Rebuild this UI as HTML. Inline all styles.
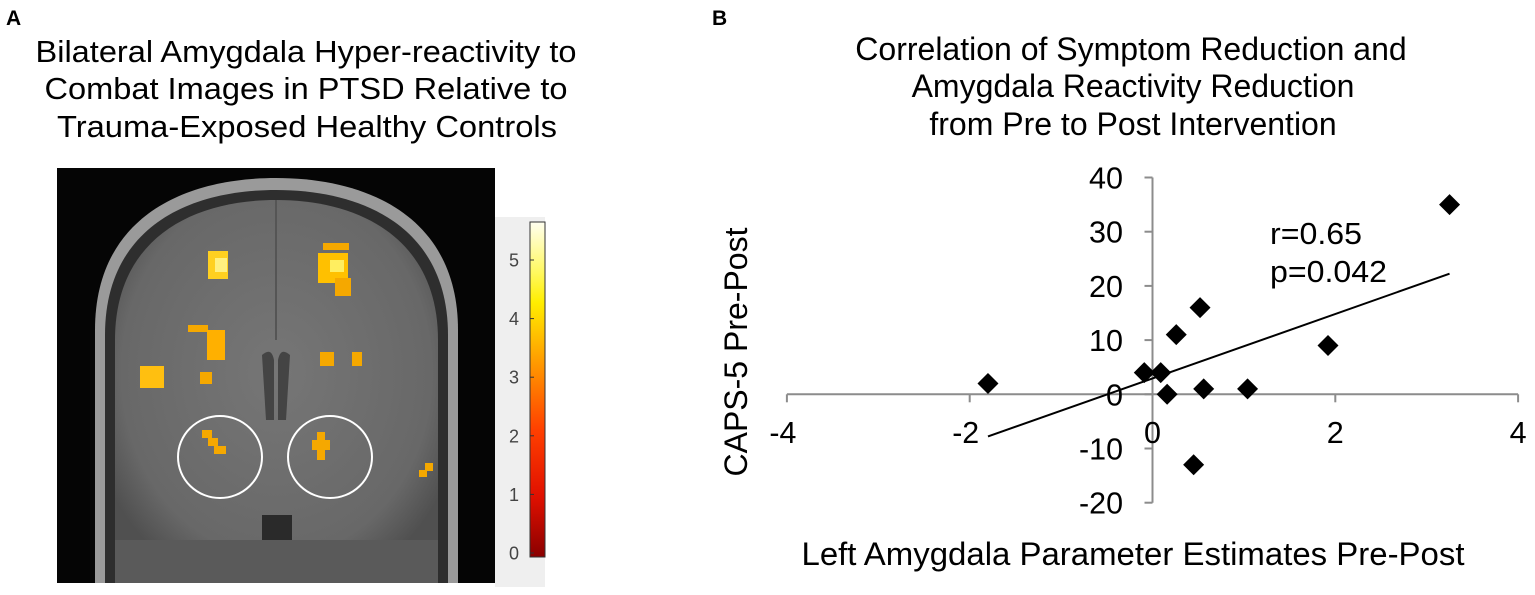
<!DOCTYPE html>
<html><head><meta charset="utf-8"><style>
html,body{margin:0;padding:0;background:#fff;}
svg{display:block;font-family:"Liberation Sans",Arial,sans-serif;}
</style></head><body>
<svg id="fig" width="1535" height="595" viewBox="0 0 1535 595" xmlns="http://www.w3.org/2000/svg">
<defs>
<linearGradient id="cbar" x1="0" y1="1" x2="0" y2="0">
<stop offset="0" stop-color="#8a0000"/><stop offset="0.18" stop-color="#e01000"/><stop offset="0.38" stop-color="#ff4000"/>
<stop offset="0.58" stop-color="#ff9a00"/><stop offset="0.76" stop-color="#ffee00"/><stop offset="0.85" stop-color="#fff860"/><stop offset="1" stop-color="#fffff0"/>
</linearGradient>
<radialGradient id="brainG" cx="0.5" cy="0.45" r="0.6"><stop offset="0" stop-color="#767676"/><stop offset="0.8" stop-color="#686868"/><stop offset="1" stop-color="#505050"/></radialGradient>
</defs>
<text x="6" y="25" font-size="21" font-weight="bold">A</text>
<text x="712" y="25" font-size="21" font-weight="bold">B</text>
<g font-size="31" text-anchor="middle">
<text x="306" y="62" textLength="541" lengthAdjust="spacingAndGlyphs">Bilateral Amygdala Hyper-reactivity to</text>
<text x="306" y="99" textLength="523" lengthAdjust="spacingAndGlyphs">Combat Images in PTSD Relative to</text>
<text x="307" y="137" textLength="500" lengthAdjust="spacingAndGlyphs">Trauma-Exposed Healthy Controls</text>
</g>
<g>
<rect x="57" y="168" width="438" height="415" fill="#050505"/>
<path d="M95 583 L95 330 C95 220 180 178 276 178 C372 178 458 220 458 330 L458 583 Z" fill="#9a9a9a"/>
<path d="M105 583 L105 335 C105 230 185 190 276 190 C367 190 448 230 448 335 L448 583 Z" fill="#2e2e2e"/>
<path d="M115 583 L115 340 C115 240 190 200 276 200 C362 200 438 240 438 340 L438 583 Z" fill="url(#brainG)"/>
<path d="M262 355 C268 350 272 350 274 360 L274 420 L266 420 Z" fill="#444"/>
<path d="M290 355 C284 350 280 350 278 360 L278 420 L286 420 Z" fill="#444"/>
<rect x="262" y="515" width="30" height="45" fill="#2a2a2a"/>
<rect x="115" y="540" width="323" height="43" fill="#5a5a5a"/>
<line x1="276" y1="200" x2="276" y2="340" stroke="#555" stroke-width="2"/>
</g>
<g fill="#f5a800">
<rect x="208" y="251" width="20" height="28" fill="#ffd020"/><rect x="215" y="258" width="12" height="14" fill="#fff080"/>
<rect x="323" y="243" width="26" height="7"/><rect x="318" y="253" width="30" height="30" fill="#ffc000"/><rect x="330" y="260" width="14" height="12" fill="#ffee60"/><rect x="335" y="278" width="16" height="18"/>
<rect x="188" y="325" width="20" height="7"/><rect x="207" y="330" width="18" height="30" fill="#ffb000"/>
<rect x="200" y="372" width="12" height="12"/>
<rect x="140" y="366" width="24" height="22" fill="#ffbf10"/>
<rect x="320" y="352" width="14" height="14"/><rect x="352" y="352" width="10" height="14"/>
<rect x="202" y="430" width="10" height="8"/><rect x="208" y="438" width="10" height="8"/><rect x="214" y="446" width="12" height="8"/>
<rect x="317" y="432" width="8" height="28"/><rect x="312" y="440" width="18" height="10"/>
<rect x="425" y="463" width="8" height="8"/><rect x="419" y="470" width="8" height="7"/>
</g>
<ellipse cx="220" cy="457" rx="42" ry="41" fill="none" stroke="#fff" stroke-width="2"/>
<ellipse cx="330" cy="457" rx="42" ry="41" fill="none" stroke="#fff" stroke-width="2"/>
<rect x="495" y="217" width="50" height="370" fill="#efefef"/>
<rect x="530" y="222" width="15" height="335" fill="url(#cbar)" stroke="#333" stroke-width="1"/>
<g id="cbticks" font-size="18" fill="#444" text-anchor="middle"></g>

<g font-size="32" text-anchor="middle">
<text x="1131" y="60">Correlation of Symptom Reduction and</text>
<text x="1133" y="97">Amygdala Reactivity Reduction</text>
<text x="1133" y="135">from Pre to Post Intervention</text>
</g>
<g id="chart"></g>
<text x="1133" y="565" font-size="32" text-anchor="middle" textLength="663" lengthAdjust="spacingAndGlyphs">Left Amygdala Parameter Estimates Pre-Post</text>
<text transform="translate(747,352) rotate(-90)" font-size="32" text-anchor="middle">CAPS-5 Pre-Post</text>
<text x="1270" y="244" font-size="31" textLength="92" lengthAdjust="spacingAndGlyphs">r=0.65</text>
<text x="1270" y="282" font-size="31" textLength="117" lengthAdjust="spacingAndGlyphs">p=0.042</text>
</svg>
<script>
const xValues = [-1.8, -0.09, 0.09, 0.16, 0.26, 0.52, 0.56, 1.04, 1.92, 3.25, 0.45];
const yValues = [2, 4, 4, 0, 11, 16, 1, 1, 9, 35, -13];
const xTicks = [-4, -2, 0, 2, 4];
const yTicks = [-20, -10, 0, 10, 20, 30, 40];
const cbTicks = [0, 1, 2, 3, 4, 5];

const NS = 'http://www.w3.org/2000/svg';
function sx(v){ return 1152.5 + v * 91.4; }
function sy(v){ return 394.3 - v * 5.42; }
function cby(v){ return 553 - v * 58.6; }
function mk(tag, attrs, parent){ const e = document.createElementNS(NS, tag); for (const k in attrs) e.setAttribute(k, attrs[k]); parent.appendChild(e); return e; }
function labW(t){ const s = String(t); return s.replace('-', '').length * 17 + (s.indexOf('-') >= 0 ? 10 : 0); }

const chart = document.getElementById('chart');
const axisCol = '#8c8c8c';
const xAxis = mk('line', {x1: sx(-4), x2: sx(4), y1: sy(0), y2: sy(0), stroke: axisCol, 'stroke-width': 2}, chart);


const yAxis = mk('line', {x1: sx(0), x2: sx(0), y1: sy(40), y2: sy(-20), stroke: axisCol, 'stroke-width': 2}, chart);



xTicks.forEach(t => {
  const tk = mk('line', {x1: sx(t), x2: sx(t), y1: sy(0), y2: sy(0) + 8, stroke: axisCol, 'stroke-width': 2}, chart);
  
  
  const lb = mk('text', {x: sx(t) - (t < 0 ? 4 : 0), y: 443, 'font-size': 31, 'text-anchor': 'middle', textLength: labW(t), lengthAdjust: 'spacingAndGlyphs'}, chart);
  lb.textContent = t;
  
  
});
yTicks.forEach(t => {
  const tk = mk('line', {x1: sx(0) - 8, x2: sx(0), y1: sy(t), y2: sy(t), stroke: axisCol, 'stroke-width': 2}, chart);
  
  
  const lb = mk('text', {x: 1123, y: sy(t) + 11, 'font-size': 31, 'text-anchor': 'end', textLength: labW(t), lengthAdjust: 'spacingAndGlyphs'}, chart);
  lb.textContent = t;
  
  
});

const n = xValues.length;
const mx = xValues.reduce((a,b)=>a+b,0)/n, my = yValues.reduce((a,b)=>a+b,0)/n;
let sxy = 0, sxx = 0;
for (let i = 0; i < n; i++){ sxy += (xValues[i]-mx)*(yValues[i]-my); sxx += (xValues[i]-mx)**2; }
const slope = sxy/sxx, icpt = my - slope*mx;
const x0 = Math.min(...xValues), x1 = Math.max(...xValues);
const trend = mk('line', {x1: sx(x0), y1: sy(icpt + slope*x0), x2: sx(x1), y2: sy(icpt + slope*x1), stroke: '#000', 'stroke-width': 2}, chart);



xValues.forEach((xv, i) => {
  const cx = sx(xv), cy = sy(yValues[i]), h = 10.5;
  const d = mk('polygon', {points: `${cx},${cy-h} ${cx+h},${cy} ${cx},${cy+h} ${cx-h},${cy}`, fill: '#000'}, chart);
  
  
});

const cbg = document.getElementById('cbticks');
cbTicks.forEach(t => {
  const lb = mk('text', {x: 514, y: cby(t) + 6.5}, cbg);
  lb.textContent = t;
  
  
  const tk = mk('line', {x1: 530, x2: 534, y1: cby(t), y2: cby(t), stroke: '#333', 'stroke-width': 1}, cbg);
  
  
});
</script>
</body></html>
